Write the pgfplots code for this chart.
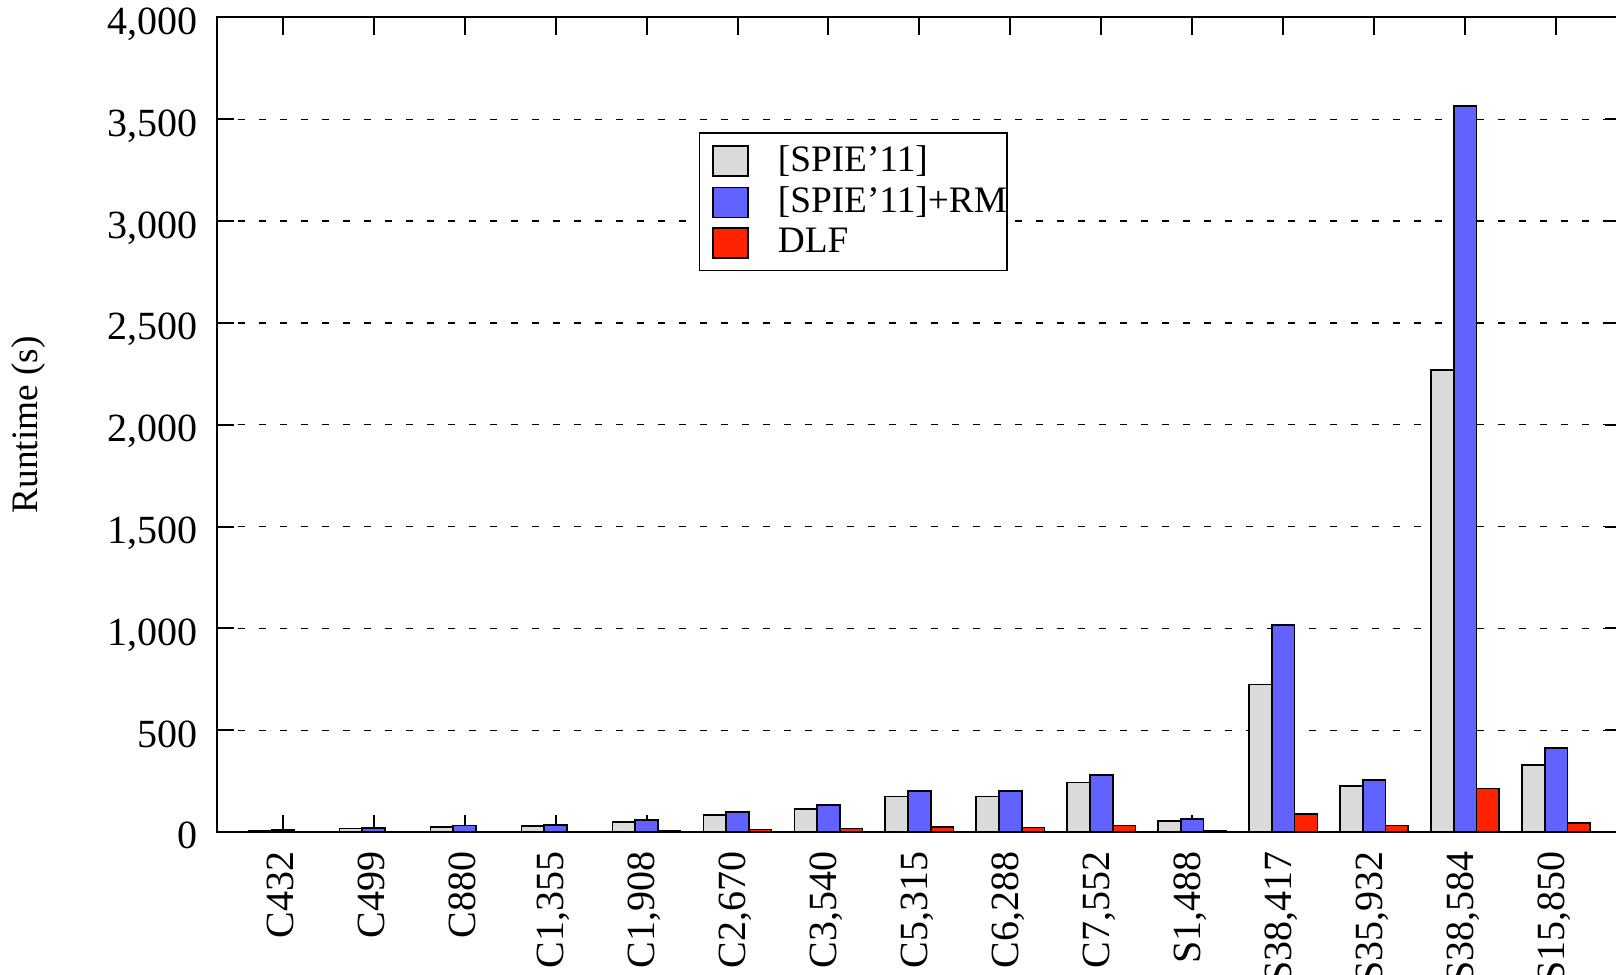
\documentclass[border=0pt]{standalone}
\usepackage{fontspec}
\setmainfont{Liberation Serif}
\usepackage{pgfplots}
\pgfplotsset{compat=1.18}
\definecolor{cgrey}{RGB}{218,218,218}
\definecolor{cblue}{RGB}{98,98,255}
\definecolor{cred}{RGB}{255,34,0}
\begin{document}
\begin{tikzpicture}[font=\fontsize{11.2bp}{13bp}\selectfont]
\useasboundingbox (0,0) rectangle (484.8bp,292.5bp);
\clip (0,0) rectangle (484.8bp,292.5bp);
\begin{axis}[
  at={(64.95bp,42.9bp)}, anchor=south west,
  scale only axis, width=421.8bp, height=244.35bp,
  xmin=-0.728, xmax=14.73, ymin=0, ymax=4000,
  ybar, bar width=0.25,
  legend image code/.code={\draw[#1,line width=0.5bp] (0bp,-4.5bp) rectangle (10.5bp,4.5bp); \path[draw=none,fill=none] (-4bp,0bp) -- (19.5bp,0bp);},
  ytick={0,500,...,4000},
  xtick={0,...,14},
  xticklabels={C432,C499,C880,{C1,355},{C1,908},{C2,670},{C3,540},{C5,315},{C6,288},{C7,552},{S1,488},{S38,417},{S35,932},{S38,584},{S15,850}},
  tick align=inside, major tick length=5.2bp,
  axis line style={line width=0.6bp},
  every tick/.style={line width=0.6bp, black},
  scaled y ticks=false,
  /pgf/number format/.cd, 1000 sep={,}, assume math mode=true, /pgfplots/.cd,
  yticklabel style={xshift=-2.2bp, yshift=-1.1bp, text depth=0pt, font=\fontsize{12bp}{14bp}\selectfont},
  xticklabel style={xshift=-0.6bp, yshift=-2.4bp, rotate=90, anchor=east, font=\fontsize{12bp}{14bp}\selectfont},
  ymajorgrids,
  major grid style={dash pattern=on 2.1bp off 4.2bp, line width=0.4bp, black},
  ylabel={Runtime (s)},
  ylabel style={at={(axis description cs:-0.1334,0.5)}, anchor=center},
  legend style={at={(0.343,0.859)}, anchor=north west, draw=black, line width=0.45bp,
    inner xsep=0bp, inner ysep=3.3bp, nodes={inner xsep=0bp, inner ysep=0.5bp}, row sep=2.1bp,
    legend cell align=left},
]
\addplot[fill=cgrey, draw=black, line width=0.5bp, bar shift=-0.25] coordinates {
(0,8) (1,17) (2,25) (3,30) (4,50) (5,82) (6,113) (7,175) (8,174) (9,243) (10,54) (11,724) (12,226) (13,2269) (14,329)};
\addlegendentry{[SPIE’11]}
\addplot[fill=cblue, draw=black, line width=0.5bp, bar shift=0] coordinates {
(0,10) (1,20) (2,32) (3,36) (4,58) (5,97) (6,133) (7,200) (8,200) (9,280) (10,64) (11,1018) (12,254) (13,3565) (14,414)};
\addlegendentry{[SPIE’11]+RM}
\addplot[fill=cred, draw=black, line width=0.5bp, bar shift=0.25] coordinates {
(0,1) (1,2) (2,2) (3,3) (4,5) (5,12) (6,17) (7,23) (8,22) (9,32) (10,7) (11,87) (12,32) (13,213) (14,44)};
\addlegendentry{DLF}
\end{axis}
\end{tikzpicture}
\end{document}
